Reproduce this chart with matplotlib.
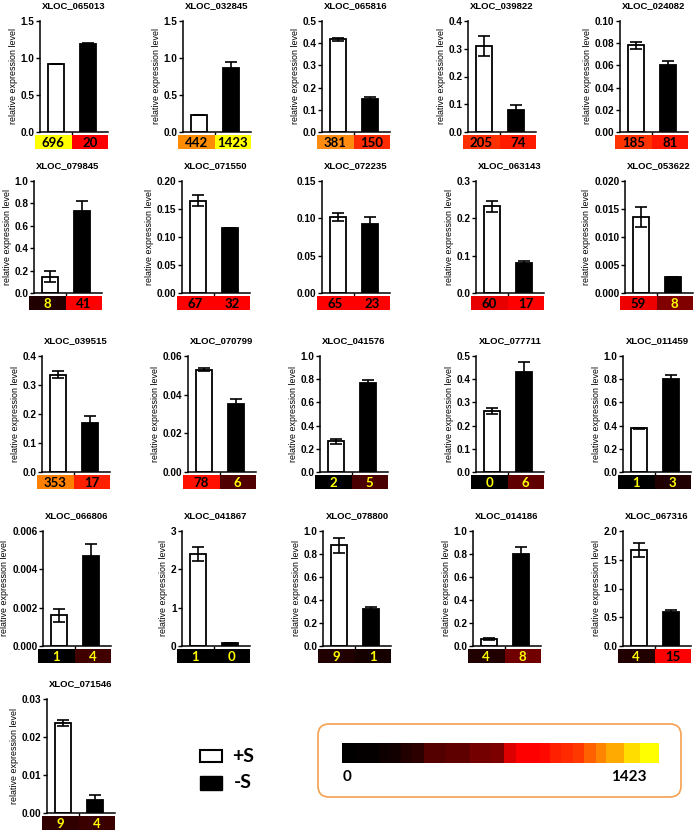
import matplotlib
matplotlib.use('Agg')
import matplotlib.pyplot as plt
from matplotlib.patches import FancyBboxPatch, Rectangle
from matplotlib.colors import ListedColormap
from matplotlib.ticker import FormatStrFormatter
import numpy as np

# ---------------- data ----------------
genes = ['XLOC_065013', 'XLOC_032845', 'XLOC_065816', 'XLOC_039822', 'XLOC_024082',
         'XLOC_079845', 'XLOC_071550', 'XLOC_072235', 'XLOC_063143', 'XLOC_053622',
         'XLOC_039515', 'XLOC_070799', 'XLOC_041576', 'XLOC_077711', 'XLOC_011459',
         'XLOC_066806', 'XLOC_041867', 'XLOC_078800', 'XLOC_014186', 'XLOC_067316',
         'XLOC_071546']
plus_s = [0.92, 0.23, 0.417, 0.31, 0.078,
          0.145, 0.165, 0.102, 0.232, 0.0136,
          0.336, 0.053, 0.265, 0.265, 0.375,
          0.0016, 2.40, 0.875, 0.06, 1.67,
          0.0238]
plus_err = [0.005, 0.005, 0.008, 0.037, 0.0035,
            0.05, 0.01, 0.005, 0.014, 0.0018,
            0.011, 0.001, 0.02, 0.013, 0.005,
            0.00035, 0.18, 0.065, 0.008, 0.13,
            0.0008]
minus_s = [1.19, 0.87, 0.148, 0.08, 0.060,
           0.735, 0.116, 0.093, 0.08, 0.0029,
           0.17, 0.035, 0.765, 0.43, 0.80,
           0.0047, 0.08, 0.32, 0.80, 0.60,
           0.0035]
minus_err = [0.01, 0.08, 0.008, 0.017, 0.004,
             0.09, 0.0, 0.009, 0.007, 0.0,
             0.023, 0.0025, 0.03, 0.045, 0.035,
             0.0006, 0.01, 0.02, 0.065, 0.025,
             0.0013]
y_max = [1.5, 1.5, 0.5, 0.4, 0.10,
         1.0, 0.20, 0.15, 0.3, 0.020,
         0.4, 0.06, 1.0, 0.5, 1.0,
         0.006, 3, 1.0, 1.0, 2.0,
         0.03]
y_step = [0.5, 0.5, 0.1, 0.1, 0.02,
          0.2, 0.05, 0.05, 0.1, 0.005,
          0.1, 0.02, 0.2, 0.1, 0.2,
          0.002, 1, 0.2, 0.2, 0.5,
          0.01]
tick_fmt = ['%.1f', '%.1f', '%.1f', '%.1f', '%.2f',
            '%.1f', '%.2f', '%.2f', '%.1f', '%.3f',
            '%.1f', '%.2f', '%.1f', '%.1f', '%.1f',
            '%.3f', '%.0f', '%.1f', '%.1f', '%.1f',
            '%.2f']
count_plus = [696, 442, 381, 205, 185,
              8, 67, 65, 60, 59,
              353, 78, 2, 0, 1,
              1, 1, 9, 4, 4,
              9]
count_minus = [20, 1423, 150, 74, 81,
               41, 32, 23, 17, 8,
               17, 6, 5, 6, 3,
               4, 0, 1, 8, 15,
               4]
color_plus = ['#FFFF00', '#FF8C00', '#FF8C10', '#FF3000', '#FF3300',
              '#200000', '#FF0000', '#FF0000', '#E80000', '#EE0000',
              '#FF8000', '#FF1000', '#000000', '#000000', '#000000',
              '#000000', '#000000', '#200000', '#200000', '#200000',
              '#300000']
color_minus = ['#FF0000', '#FFFF00', '#FF2A00', '#FF1A00', '#FF1500',
               '#FF0000', '#FF0000', '#FF0000', '#FF0000', '#800000',
               '#FF2000', '#500000', '#4A0000', '#600000', '#200000',
               '#400000', '#000000', '#150000', '#700000', '#FF0000',
               '#3A0000']
show_ylabel = [True] * 21
show_ylabel[7] = False

# colour scale legend (0 .. 1423)
cbar_colors = ['#000000', '#050000', '#0D0000', '#120000', '#220000', '#2D0000',
               '#550000', '#5F0000', '#740000', '#7D0000', '#DD0000', '#FF0000',
               '#FF0800', '#FF2000', '#FF2A00', '#FF3800', '#FF6000', '#FF8400',
               '#FFAA00', '#FFDD00', '#FFFF00']
cbar_widths = [45, 66, 30, 37, 33, 34, 68, 70, 65, 37, 36, 72, 30, 35, 35, 32,
               36, 32, 52, 50, 56]
cbar_labels = ['0', '1423']
legend_labels = ['+S', '-S']

# ---------------- layout (pixels) ----------------
W, H = 700, 836
lefts = [40, 183, 322, 468, 620,
         34, 182, 322, 476, 625,
         42, 188, 320, 476, 623,
         43, 182, 323, 473, 623,
         47]
row_top = [21, 181, 356, 531, 699]
row_bot = [132, 293, 472, 646, 813]
AX_W = 68

BODY = 'Liberation Sans'
CAL = 'Lato'

fig = plt.figure(figsize=(W / 100, H / 100), dpi=100)


def rect(l, t, w, h):
    return [l / W, 1 - (t + h) / H, w / W, h / H]


overlay = fig.add_axes([0, 0, 1, 1])
overlay.set_xlim(0, W)
overlay.set_ylim(H, 0)
overlay.axis('off')

for i, g in enumerate(genes):
    r = i // 5
    l = lefts[i]
    t = row_top[r]
    b = row_bot[r]
    ax = fig.add_axes(rect(l, t, AX_W, b - t))
    ax.bar([0, 1], [plus_s[i], minus_s[i]], width=0.5,
           color=['white', 'black'], edgecolor='black', linewidth=1.3,
           yerr=[plus_err[i], minus_err[i]], capsize=4.5,
           error_kw=dict(elinewidth=1.2, capthick=1.2, ecolor='black'))
    ax.set_xlim(-0.5, 1.62)
    ax.set_ylim(0, y_max[i])
    ax.set_yticks(np.arange(0, y_max[i] + y_step[i] / 2, y_step[i]))
    ax.yaxis.set_major_formatter(FormatStrFormatter(tick_fmt[i]))
    ax.set_xticks([0.5])
    ax.set_xticklabels([''])
    for s in ['top', 'right']:
        ax.spines[s].set_visible(False)
    for s in ['left', 'bottom']:
        ax.spines[s].set_linewidth(1.1)
    ax.tick_params(axis='both', length=3, width=1.0, pad=1)
    for lab in ax.get_yticklabels():
        lab.set_fontfamily(BODY)
        lab.set_fontweight('bold')
        lab.set_fontsize(7.2)
    ax.set_title(g, fontsize=6.8, fontweight='bold', family=BODY, pad=9)
    if show_ylabel[i]:
        ax.set_ylabel('relative expression level', fontsize=6.4, family=BODY,
                      labelpad=2)

    # colour strip with counts
    sx = fig.add_axes(rect(l - 5, b + 3, 73, 14))
    sx.bar([0, 1], [1, 1], width=1, color=[color_plus[i], color_minus[i]],
           linewidth=0)
    sx.set_xlim(-0.5, 1.5)
    sx.set_ylim(0, 1)
    sx.axis('off')
    for j, (cnt, col) in enumerate([(count_plus[i], color_plus[i]),
                                    (count_minus[i], color_minus[i])]):
        rgb = matplotlib.colors.to_rgb(col)
        lum = 0.3 * rgb[0] + 0.59 * rgb[1] + 0.11 * rgb[2]
        tc = 'black' if lum > 0.25 else '#FFFF00'
        sx.text(j, 0.42, str(cnt), ha='center', va='center', fontsize=9.5,
                fontweight='bold', family=CAL, color=tc)

# legend
overlay.add_patch(Rectangle((200, 750), 22, 12, facecolor='white',
                            edgecolor='black', linewidth=1.5))
overlay.add_patch(Rectangle((200, 776), 22, 14, facecolor='black',
                            edgecolor='black', linewidth=1.0))
overlay.text(232, 756, legend_labels[0], fontsize=14, fontweight='bold',
             family=CAL, va='center', ha='left')
overlay.text(234, 783, legend_labels[1], fontsize=14, fontweight='bold',
             family=CAL, va='center', ha='left')

# colour-scale box
overlay.add_patch(FancyBboxPatch((318, 724), 363, 73,
                                 boxstyle='round,pad=0,rounding_size=11',
                                 facecolor='none', edgecolor='#F5A050',
                                 linewidth=1.2))
cax = fig.add_axes(rect(342, 743, 317, 20))
edges = np.concatenate([[0], np.cumsum(cbar_widths)]).astype(float)
edges /= edges[-1]
cax.pcolormesh(edges, [0, 1], np.arange(len(cbar_colors))[None, :],
               cmap=ListedColormap(cbar_colors), vmin=-0.5,
               vmax=len(cbar_colors) - 0.5)
cax.set_xlim(0, 1)
cax.set_ylim(0, 1)
cax.axis('off')
overlay.text(343, 777, cbar_labels[0], fontsize=11, fontweight='bold',
             family=CAL, va='center', ha='left')
overlay.text(647, 777, cbar_labels[1], fontsize=11, fontweight='bold',
             family=CAL, va='center', ha='right')

fig.savefig('out.png', dpi=100)
